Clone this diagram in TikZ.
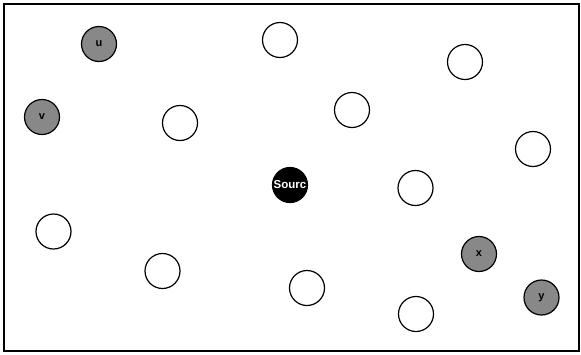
\documentclass[tikz,border=0pt]{standalone}
\usepackage{fontspec}
\setmainfont{Liberation Sans}
\usetikzlibrary{positioning}

\definecolor{markgray}{RGB}{136,136,136}

\begin{document}
\begin{tikzpicture}[x=1pt, y=-1pt,
    peer/.style={circle, draw, line width=1.2pt, minimum size=35pt, inner sep=0pt,
        fill=white, font=\bfseries\fontsize{11}{11}\selectfont},
    marked/.style={peer, fill=markgray},
    source/.style={peer, fill=black, text=white, font=\bfseries\fontsize{11.5}{11.5}\selectfont}]
    % Frame
    \useasboundingbox (0,0) rectangle (581,354);
    \draw[line width=2pt] (3.5,3.5) rectangle (579,351);

    % Marked nodes
    \node[marked] (u) at (99,44) {u};
    \node[marked] (v) at (42,117) {v};
    \node[marked] (x) at (479,254) {x};
    \node[marked] (y) at (541.5,297.5) {y};

    % Source
    \node[source] (src) at (290,185) {Sourc};

    % Other nodes
    \node[peer] (n1) at (280,40) {};
    \node[peer] (n2) at (465,62) {};
    \node[peer] (n3) at (180,123) {};
    \node[peer] (n4) at (352,110) {};
    \node[peer] (n5) at (533,149) {};
    \node[peer] (n6) at (415.5,188) {};
    \node[peer] (n7) at (53.5,231.5) {};
    \node[peer] (n8) at (162.5,271) {};
    \node[peer] (n9) at (307,288) {};
    \node[peer] (n10) at (416,314) {};
\end{tikzpicture}
\end{document}
